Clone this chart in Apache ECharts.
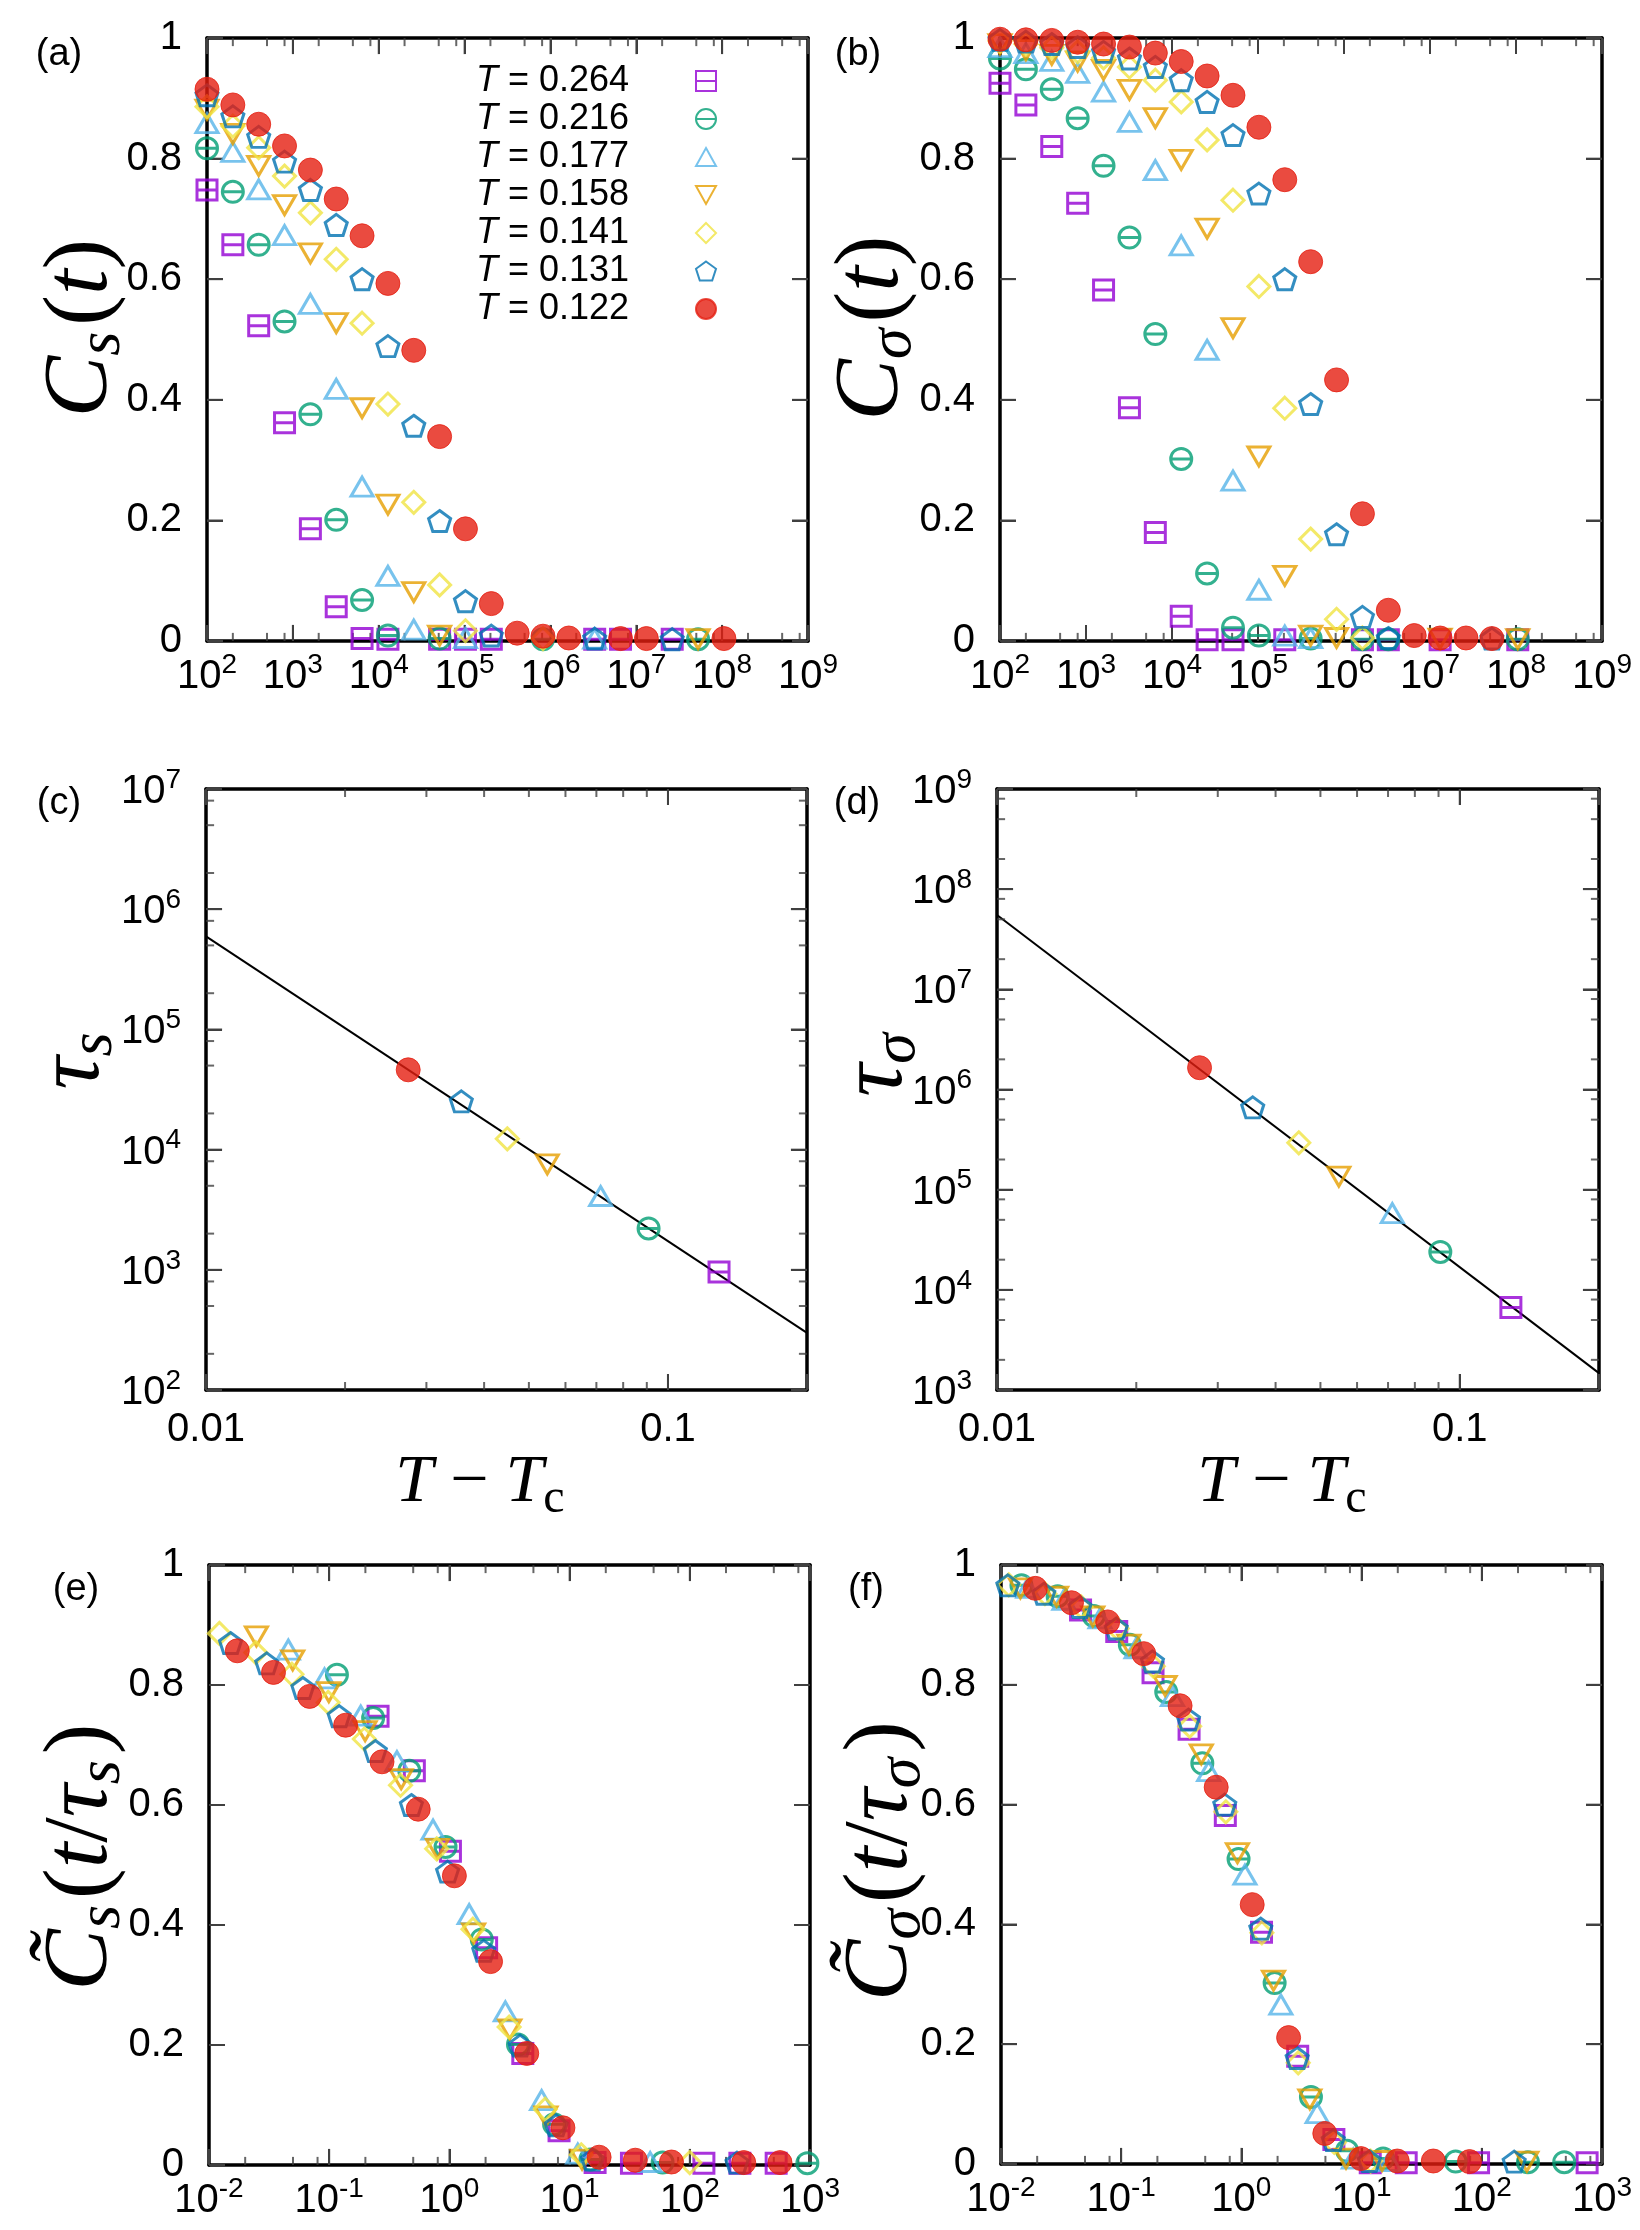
<!DOCTYPE html>
<html>
<head>
<meta charset="utf-8">
<script src="https://cdn.jsdelivr.net/npm/echarts@6/dist/echarts.min.js"></script>
<style>
html, body { margin: 0; padding: 0; background: #fff; }
#chart { width: 1640px; height: 2230px; }
</style>
</head>
<body>
<div id="chart"></div>
<script>
// ---------- data ----------
var temps = ['0.264', '0.216', '0.177', '0.158', '0.141', '0.131', '0.122'];
var colors = ['#9400d3', '#009e73', '#56b4e9', '#e69f00', '#f0e442', '#0072b2', '#e51e10'];

// waiting times of panels (a) and (b)
var times = [100, 200, 400, 800, 1600, 3200, 6400, 12800, 25600, 51200, 102400, 204800,
    409600, 819200, 1638400, 3276800, 6553600, 13107200, 26214400, 52428800, 104857600];

// (a) C_s(t), one value per time, null = no point
var csPurple = [0.748, 0.657, 0.523, 0.362, 0.186, 0.057, 0.004, 0.003, null, 0.003, 0.003, 0.003, null, null, null, 0.003, 0.003, null, 0.003, null, null];
var csGreen = [0.817, 0.745, 0.657, 0.530, 0.376, 0.201, 0.068, 0.009, null, 0.004, null, null, null, 0.003, null, null, null, null, null, 0.003, null];
var csLightBlue = [0.859, 0.811, 0.749, 0.673, 0.559, 0.418, 0.256, 0.108, 0.019, null, 0.005, null, null, null, null, 0.004, null, null, null, null, null];
var csOrange = [0.881, 0.841, 0.788, 0.723, 0.643, 0.527, 0.386, 0.226, 0.081, 0.009, null, null, null, null, null, null, null, null, null, 0.003, null];
var csYellow = [0.886, 0.854, 0.818, 0.771, 0.710, 0.633, 0.527, 0.393, 0.230, 0.093, 0.017, null, null, 0.004, null, null, null, null, null, null, null];
var csBlue = [0.905, 0.870, 0.836, 0.795, 0.748, 0.690, 0.600, 0.489, 0.357, 0.199, 0.066, 0.009, null, null, null, 0.004, null, null, 0.003, null, null];
var csRed = [0.915, 0.889, 0.857, 0.821, 0.781, 0.733, 0.672, 0.593, 0.482, 0.339, 0.186, 0.062, 0.013, 0.008, 0.005, null, 0.004, 0.004, null, null, 0.004];

// (b) C_sigma(t)
var csgPurple = [0.925, 0.889, 0.820, 0.726, 0.582, 0.387, 0.180, 0.041, 0.002, 0.002, null, 0.002, null, null, 0.002, 0.002, null, 0.002, null, null, 0.002];
var csgGreen = [0.966, 0.948, 0.915, 0.867, 0.788, 0.669, 0.509, 0.302, 0.112, 0.022, 0.009, null, 0.004, null, 0.003, 0.003, null, null, null, null, 0.003];
var csgLightBlue = [0.985, 0.975, 0.962, 0.942, 0.911, 0.861, 0.781, 0.656, 0.483, 0.266, 0.085, 0.009, 0.005, null, null, null, null, null, null, null, null];
var csgOrange = [0.990, 0.980, 0.972, 0.961, 0.947, 0.914, 0.867, 0.798, 0.684, 0.519, 0.306, 0.108, 0.009, 0.005, null, null, null, 0.004, null, null, 0.003];
var csgYellow = [0.995, 0.990, 0.984, 0.977, 0.967, 0.952, 0.930, 0.894, 0.831, 0.731, 0.588, 0.386, 0.169, 0.036, 0.005, null, null, null, null, null, null];
var csgBlue = [0.997, 0.994, 0.990, 0.985, 0.977, 0.966, 0.952, 0.930, 0.894, 0.839, 0.742, 0.600, 0.393, 0.177, 0.040, 0.005, null, null, null, 0.004, null];
var csgRed = [0.998, 0.997, 0.996, 0.993, 0.990, 0.985, 0.975, 0.961, 0.937, 0.905, 0.852, 0.765, 0.629, 0.433, 0.211, 0.051, 0.009, 0.005, 0.005, 0.004, null];

// (c), (d) relaxation times against T - Tc (purple ... red)
var tMinusTc = [0.129, 0.0908, 0.0715, 0.0548, 0.0449, 0.0357, 0.0274];
var tauS = [957, 2210, 4110, 7530, 12300, 25200, 46100];
var tauSigma = [6650, 23900, 58300, 135000, 294000, 663000, 1650000];
var fitTauS = [[0.01, 594000], [0.2, 299]];
var fitTauSigma = [[0.01, 55200000], [0.2, 1475]];

// (e) scaled C_s, [t/tau_s, value]
var esPurple = [[0.255, 0.748], [0.511, 0.657], [1.02, 0.523], [2.04, 0.362], [4.08, 0.186], [8.17, 0.057], [16.3, 0.004], [32.7, 0.003], [131, 0.003], [261, 0.003], [523, 0.003]];
var esGreen = [[0.116, 0.817], [0.232, 0.745], [0.464, 0.657], [0.929, 0.530], [1.86, 0.376], [3.72, 0.201], [7.43, 0.068], [14.9, 0.009], [59.4, 0.004], [951, 0.003]];
var esLightBlue = [[0.0457, 0.859], [0.0914, 0.811], [0.183, 0.749], [0.366, 0.673], [0.731, 0.559], [1.46, 0.418], [2.92, 0.256], [5.85, 0.108], [11.7, 0.019], [46.8, 0.005]];
var esOrange = [[0.0248, 0.881], [0.0497, 0.841], [0.0993, 0.788], [0.199, 0.723], [0.397, 0.643], [0.795, 0.527], [1.59, 0.386], [3.18, 0.226], [6.36, 0.081], [12.7, 0.009]];
var esYellow = [[0.0122, 0.886], [0.0245, 0.854], [0.049, 0.818], [0.098, 0.771], [0.196, 0.710], [0.392, 0.633], [0.784, 0.527], [1.57, 0.393], [3.14, 0.230], [6.27, 0.093], [12.5, 0.017], [100, 0.004]];
var esBlue = [[0.0151, 0.870], [0.0302, 0.836], [0.0604, 0.795], [0.121, 0.748], [0.242, 0.690], [0.483, 0.600], [0.966, 0.489], [1.93, 0.357], [3.87, 0.199], [7.73, 0.066], [15.5, 0.009], [247, 0.004]];
var esRed = [[0.0172, 0.857], [0.0344, 0.821], [0.0687, 0.781], [0.137, 0.733], [0.275, 0.672], [0.550, 0.593], [1.10, 0.482], [2.20, 0.339], [4.40, 0.186], [8.80, 0.062], [17.6, 0.013], [35.2, 0.008], [70.4, 0.005], [281, 0.004], [563, 0.004]];

// (f) scaled C_sigma, [t/tau_sigma, value]
var esgPurple = [[0.0459, 0.925], [0.0918, 0.889], [0.184, 0.820], [0.367, 0.726], [0.735, 0.582], [1.47, 0.387], [2.94, 0.180], [5.88, 0.041], [11.8, 0.002], [23.5, 0.002], [94.0, 0.002], [752, 0.002]];
var esgGreen = [[0.0148, 0.966], [0.0296, 0.948], [0.0592, 0.915], [0.118, 0.867], [0.237, 0.788], [0.473, 0.669], [0.947, 0.509], [1.89, 0.302], [3.79, 0.112], [7.57, 0.022], [15.1, 0.009], [60.6, 0.004], [242, 0.003], [485, 0.003]];
var esgLightBlue = [[0.0167, 0.962], [0.0334, 0.942], [0.0667, 0.911], [0.133, 0.861], [0.267, 0.781], [0.534, 0.656], [1.07, 0.483], [2.13, 0.266], [4.27, 0.085], [8.54, 0.009], [17.1, 0.005]];
var esgOrange = [[0.0145, 0.961], [0.029, 0.947], [0.058, 0.914], [0.116, 0.867], [0.232, 0.798], [0.464, 0.684], [0.927, 0.519], [1.85, 0.306], [3.71, 0.108], [7.42, 0.009], [14.8, 0.005], [237, 0.004]];
var esgYellow = [[0.0116, 0.967], [0.0232, 0.952], [0.0464, 0.930], [0.0927, 0.894], [0.185, 0.831], [0.371, 0.731], [0.742, 0.588], [1.48, 0.386], [2.97, 0.169], [5.93, 0.036], [11.9, 0.005]];
var esgBlue = [[0.0114, 0.966], [0.0227, 0.952], [0.0454, 0.930], [0.0908, 0.894], [0.182, 0.839], [0.363, 0.742], [0.727, 0.600], [1.45, 0.393], [2.91, 0.177], [5.81, 0.040], [11.6, 0.005], [186, 0.004]];
var esgRed = [[0.0193, 0.961], [0.0386, 0.937], [0.0772, 0.905], [0.154, 0.852], [0.309, 0.765], [0.617, 0.629], [1.23, 0.433], [2.47, 0.211], [4.94, 0.051], [9.88, 0.009], [19.8, 0.005], [39.5, 0.005], [79.0, 0.004]];

// ---------- styling ----------
var FONT = "'Liberation Sans', Arial, Helvetica, sans-serif";
var SERIF = "'Liberation Serif', 'Times New Roman', serif";
var TICK = '#404040';

var symbols = [
    'path://M0,0L20,0L20,20L0,20Z M0,10L20,10',
    'path://M10,0A10,10,0,1,1,10,20A10,10,0,1,1,10,0Z M0,10L20,10',
    'path://M10,0L20,18L0,18Z',
    'path://M0,0L20,0L10,18Z',
    'path://M10,0L20,10L10,20L0,10Z',
    'path://M10,0L20,7.3L16.2,19L3.8,19L0,7.3Z',
    'circle'
];
var symbolSizes = [[20, 20], [21, 21], [22, 19], [22, 19], [22, 22], [22, 21], 24];

var grids = [
    {left: 207, top: 38, width: 601, height: 603},
    {left: 1000, top: 38, width: 602, height: 603},
    {left: 206, top: 789, width: 601, height: 601},
    {left: 997, top: 789, width: 602, height: 601},
    {left: 209, top: 1565, width: 601, height: 600},
    {left: 1001, top: 1565, width: 601, height: 599}
];

var powRich = {
    b: {fontFamily: FONT, fontSize: 40, color: '#000', verticalAlign: 'bottom'},
    s: {fontFamily: FONT, fontSize: 28, color: '#000', verticalAlign: 'top', padding: [0, 0, 18, 0]}
};

function powLabel(v) {
    var e = Math.log10(v), r = Math.round(e);
    if (Math.abs(e - r) > 1e-6) return '';
    return '{b|10}{s|' + r + '}';
}

function decLabel(v) {
    var e = Math.log10(v), r = Math.round(e);
    if (Math.abs(e - r) > 1e-6) return '';
    return String(+v.toPrecision(3));
}

var xAxes = [], yAxes = [];

// labelled axis + mirrored frame side
function buildAxes(dim, g, spec) {
    var list = dim === 'x' ? xAxes : yAxes;
    var sides = dim === 'x' ? ['bottom', 'top'] : ['left', 'right'];
    var mainIndex = list.length;

    sides.forEach(function (side, s) {
        var ax = {
            gridIndex: g, type: spec.type, position: side,
            min: spec.min, max: spec.max,
            axisLine: {show: true, onZero: false, lineStyle: {color: '#000', width: 3.5}},
            splitLine: {show: false},
            axisTick: {show: true, inside: true, length: 16, lineStyle: {color: TICK, width: 2}},
            axisLabel: {show: false}
        };
        if (spec.type === 'log') ax.logBase = 10;
        else ax.interval = spec.interval;

        if (s === 0) {
            ax.axisLabel = {
                show: true, color: '#000', fontFamily: FONT, fontSize: 40,
                margin: dim === 'x' ? spec.margin : 25
            };
            if (spec.fmt === 'pow') {
                ax.axisLabel.formatter = powLabel;
                ax.axisLabel.rich = powRich;
            } else if (spec.fmt === 'dec') {
                ax.axisLabel.formatter = decLabel;
            }
        }
        list.push(ax);
    });
    return mainIndex;
}

// tick positions of an axis: decades + chosen minor multiples, or linear steps
function tickValues(spec) {
    var major = [], minor = [];
    if (spec.type === 'log') {
        var lo = Math.log10(spec.min), hi = Math.log10(spec.max);
        for (var e = Math.floor(lo); e <= Math.ceil(hi); e++) {
            var d = Math.pow(10, e);
            if (e > lo + 1e-9 && e < hi - 1e-9) major.push(d);
            spec.minor.forEach(function (m) {
                var lv = Math.log10(m * d);
                if (lv > lo + 1e-6 && lv < hi - 1e-6) minor.push(m * d);
            });
        }
    } else {
        for (var k = 1; spec.min + k * spec.interval < spec.max - 1e-9; k++) {
            major.push(+(spec.min + k * spec.interval).toFixed(6));
        }
    }
    return {major: major, minor: minor};
}

// a position just inside either end of an axis (keeps tick anchors inside the plot)
function innerEnd(spec, atMax) {
    if (spec.type === 'log') return atMax ? spec.max / 1.0005 : spec.min * 1.0005;
    var span = spec.max - spec.min;
    return atMax ? spec.max - span * 0.0002 : spec.min + span * 0.0002;
}

var linY = {type: 'value', min: 0, max: 1, interval: 0.2};
var timeX = {type: 'log', min: 1e2, max: 1e9, minor: [2, 5, 8], fmt: 'pow', margin: 10};
var tcX = {type: 'log', min: 0.01, max: 0.2, minor: [2, 3, 4, 5, 6, 7, 8, 9], fmt: 'dec', margin: 20};
var scaledX = {type: 'log', min: 1e-2, max: 1e3, minor: [2, 5, 8], fmt: 'pow', margin: 10};

var axSpecs = [
    [timeX, linY],
    [timeX, linY],
    [tcX, {type: 'log', min: 1e2, max: 1e7, minor: [2, 5, 8], fmt: 'pow'}],
    [tcX, {type: 'log', min: 1e3, max: 1e9, minor: [2, 5, 8], fmt: 'pow'}],
    [scaledX, linY],
    [scaledX, linY]
];

var mainX = [], mainY = [];
axSpecs.forEach(function (sp, g) {
    mainX.push(buildAxes('x', g, sp[0]));
    mainY.push(buildAxes('y', g, sp[1]));
});

// ---------- series ----------
var series = [];

// inward frame ticks as thin rect symbols, placed through the axes' scales
function tickScatter(g, data, size, offset) {
    series.push({
        type: 'scatter', name: 'ticks', xAxisIndex: mainX[g], yAxisIndex: mainY[g],
        data: data, symbol: 'rect', symbolSize: size, symbolOffset: offset,
        itemStyle: {color: TICK}, clip: false, silent: true, z: 2,
        emphasis: {disabled: true}
    });
}

function addTicks(g, xs, ys) {
    var tx = tickValues(xs), ty = tickValues(ys);
    var yLo = innerEnd(ys, false), yHi = innerEnd(ys, true);
    var xLo = innerEnd(xs, false), xHi = innerEnd(xs, true);
    [[tx.major, 16], [tx.minor, 8]].forEach(function (p) {
        if (!p[0].length) return;
        tickScatter(g, p[0].map(function (v) { return [v, yLo]; }), [2, p[1]], [0, -p[1] / 2]);
        tickScatter(g, p[0].map(function (v) { return [v, yHi]; }), [2, p[1]], [0, p[1] / 2]);
    });
    [[ty.major, 16], [ty.minor, 8]].forEach(function (p) {
        if (!p[0].length) return;
        tickScatter(g, p[0].map(function (v) { return [xLo, v]; }), [p[1], 2], [p[1] / 2, 0]);
        tickScatter(g, p[0].map(function (v) { return [xHi, v]; }), [p[1], 2], [-p[1] / 2, 0]);
    });
}

function pairs(xs, ys) {
    var out = [];
    for (var i = 0; i < xs.length; i++) {
        if (ys[i] != null) out.push([xs[i], ys[i]]);
    }
    return out;
}

function markerStyle(i) {
    if (i === 6) return {color: colors[i], borderColor: colors[i], borderWidth: 1};
    return {color: 'rgba(255,255,255,0)', borderColor: colors[i], borderWidth: 3};
}

function addScatter(g, i, data) {
    series.push({
        type: 'scatter', name: temps[i],
        xAxisIndex: mainX[g], yAxisIndex: mainY[g],
        data: data,
        symbol: symbols[i], symbolSize: symbolSizes[i],
        itemStyle: markerStyle(i),
        z: 3 + i, clip: true, silent: true,
        emphasis: {disabled: true}
    });
}

axSpecs.forEach(function (sp, g) { addTicks(g, sp[0], sp[1]); });

var csAll = [csPurple, csGreen, csLightBlue, csOrange, csYellow, csBlue, csRed];
var csgAll = [csgPurple, csgGreen, csgLightBlue, csgOrange, csgYellow, csgBlue, csgRed];
var esAll = [esPurple, esGreen, esLightBlue, esOrange, esYellow, esBlue, esRed];
var esgAll = [esgPurple, esgGreen, esgLightBlue, esgOrange, esgYellow, esgBlue, esgRed];

[fitTauS, fitTauSigma].forEach(function (fit, k) {
    series.push({
        type: 'line', xAxisIndex: mainX[2 + k], yAxisIndex: mainY[2 + k],
        data: fit, showSymbol: false, symbol: 'none', silent: true, z: 2,
        lineStyle: {color: '#000', width: 2}
    });
});

for (var i = 0; i < 7; i++) {
    addScatter(0, i, pairs(times, csAll[i]));
    addScatter(1, i, pairs(times, csgAll[i]));
    addScatter(2, i, [[tMinusTc[i], tauS[i]]]);
    addScatter(3, i, [[tMinusTc[i], tauSigma[i]]]);
    addScatter(4, i, esAll[i]);
    addScatter(5, i, esgAll[i]);
}

// ---------- texts ----------
var titleRich = {
    c: {fontFamily: SERIF, fontStyle: 'italic', fontSize: 92, color: '#000'},
    r: {fontFamily: SERIF, fontSize: 92, color: '#000'},
    s: {fontFamily: SERIF, fontStyle: 'italic', fontSize: 62, color: '#000',
        verticalAlign: 'bottom', lineHeight: 104, padding: [0, 6, 0, 0]}
};
var xTitleRich = {
    c: {fontFamily: SERIF, fontStyle: 'italic', fontSize: 68, color: '#000'},
    r: {fontFamily: SERIF, fontSize: 68, color: '#000'},
    u: {fontFamily: SERIF, fontSize: 48, color: '#000', verticalAlign: 'bottom', lineHeight: 80}
};

function yTitle(x, y, text) {
    return {type: 'text', x: x, y: y, rotation: Math.PI / 2, silent: true,
        style: {text: text, rich: titleRich, align: 'center', verticalAlign: 'middle'}};
}
function xTitle(x, y, text) {
    return {type: 'text', x: x, y: y, silent: true,
        style: {text: text, rich: xTitleRich, align: 'center', verticalAlign: 'middle'}};
}
function panelLabel(x, y, text) {
    return {type: 'text', x: x, y: y, silent: true,
        style: {text: text, fontFamily: FONT, fontSize: 38, fill: '#000', align: 'center', verticalAlign: 'middle'}};
}

var graphics = [
    panelLabel(59, 55, '(a)'), panelLabel(858, 55, '(b)'),
    panelLabel(59, 804, '(c)'), panelLabel(857, 804, '(d)'),
    panelLabel(76, 1590, '(e)'), panelLabel(866, 1590, '(f)'),
    yTitle(82, 328, '{c|C}{s|s}{r|(}{c|t}{r|)}'),
    yTitle(873, 328, '{c|C}{s|σ}{r|(}{c|t}{r|)}'),
    yTitle(74, 1058, '{c|τ}{s|s}'),
    yTitle(877, 1062, '{c|τ}{s|σ}'),
    yTitle(82, 1857, '{c|C\u0303}{s|s}{r|(}{c|t}{r|/}{c|τ}{s|s}{r|)}'),
    yTitle(882, 1861, '{c|C\u0303}{s|σ}{r|(}{c|t}{r|/}{c|τ}{s|σ}{r|)}'),
    xTitle(480, 1483, '{c|T}{r| − }{c|T}{u|c}'),
    xTitle(1282, 1483, '{c|T}{r| − }{c|T}{u|c}')
];

var chart = echarts.init(document.getElementById('chart'), null, {renderer: 'canvas'});
chart.setOption({
    animation: false,
    grid: grids.map(function (g) {
        return {left: g.left, top: g.top, width: g.width, height: g.height, show: false};
    }),
    xAxis: xAxes,
    yAxis: yAxes,
    legend: {
        orient: 'vertical', align: 'right', right: 923, top: 63, padding: 0,
        itemGap: 2, itemWidth: 20, itemHeight: 20, selectedMode: false,
        data: temps,
        formatter: function (name) { return '{i|T}{n| = ' + name + '}'; },
        textStyle: {
            color: '#000', fontFamily: FONT, fontSize: 36, lineHeight: 30,
            rich: {
                i: {fontFamily: FONT, fontStyle: 'italic', fontSize: 36, color: '#000'},
                n: {fontFamily: FONT, fontSize: 36, color: '#000', padding: [0, 62, 0, 0]}
            }
        }
    },
    graphic: graphics,
    series: series
});
</script>
</body>
</html>
